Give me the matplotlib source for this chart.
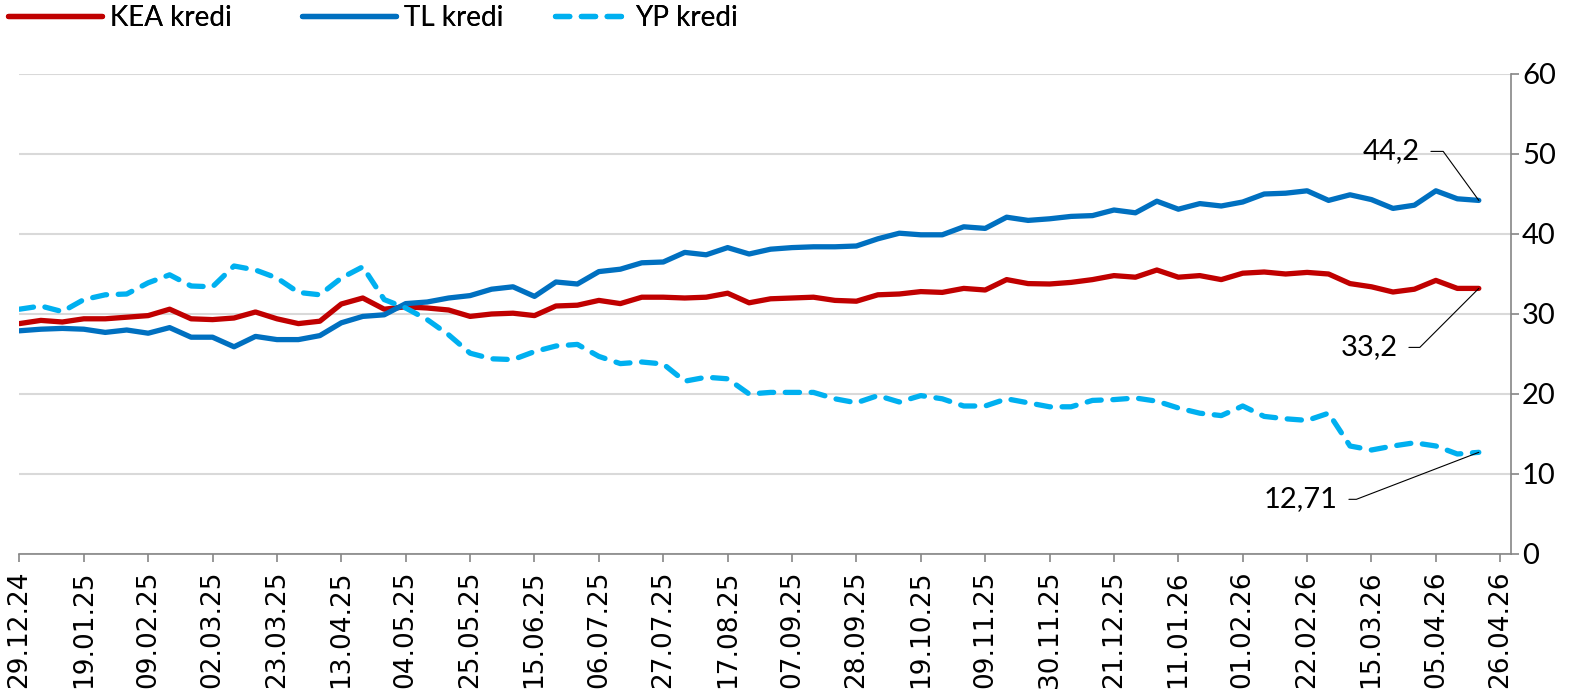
import matplotlib

matplotlib.use("Agg")
import matplotlib.pyplot as plt
import pandas as pd

# weekly data, 29.12.24 .. 19.04.26
start = "2024-12-29"
n_weeks = 69

kea = [28.8, 29.2, 29.0, 29.4, 29.4, 29.6, 29.8, 30.6, 29.4, 29.3, 29.5, 30.25, 29.4,
       28.8, 29.1, 31.25, 32.0, 30.6, 30.9, 30.75, 30.5, 29.7, 30.0, 30.1,
       29.8, 31.0, 31.1, 31.7, 31.3, 32.1, 32.1, 32.0, 32.1, 32.6, 31.4, 31.9, 32.0,
       32.1, 31.7, 31.6, 32.4, 32.5, 32.8, 32.7, 33.2, 33.0, 34.3, 33.8, 33.75,
       33.95, 34.3, 34.8, 34.6, 35.5, 34.6, 34.8, 34.3, 35.1, 35.25,
       35.0, 35.2, 35.0, 33.8, 33.4, 32.75, 33.1, 34.2, 33.2, 33.2]
tl = [27.9, 28.1, 28.2, 28.1, 27.7, 28.0, 27.6, 28.3, 27.1, 27.1, 25.9, 27.2, 26.8,
      26.8, 27.3, 28.9, 29.7, 29.9, 31.3, 31.5, 32.0, 32.3, 33.1, 33.4,
      32.2, 34.0, 33.75, 35.3, 35.6, 36.4, 36.5, 37.7, 37.4, 38.3, 37.5, 38.1, 38.3,
      38.4, 38.4, 38.5, 39.4, 40.1, 39.9, 39.9, 40.9, 40.7, 42.1, 41.7, 41.9,
      42.2, 42.3, 43.0, 42.65, 44.1, 43.1, 43.8, 43.5, 44.0, 45.0,
      45.1, 45.4, 44.2, 44.9, 44.3, 43.2, 43.6, 45.4, 44.4, 44.2]
yp = [30.6, 31.0, 30.3, 31.8, 32.4, 32.5, 33.9, 34.9, 33.5, 33.4, 36.0, 35.5, 34.5,
      32.7, 32.4, 34.5, 35.9, 31.8, 30.75, 29.3, 27.4, 25.1, 24.4, 24.3,
      25.3, 26.0, 26.2, 24.7, 23.8, 24.0, 23.75, 21.6, 22.1, 21.9, 20.0, 20.2, 20.2,
      20.2, 19.4, 18.9, 19.8, 19.0, 19.8, 19.4, 18.5, 18.5, 19.4, 18.9, 18.4,
      18.4, 19.2, 19.3, 19.5, 19.1, 18.25, 17.6, 17.3, 18.5, 17.2,
      16.9, 16.7, 17.6, 13.5, 13.0, 13.5, 13.9, 13.5, 12.5, 12.71]

labels = ["KEA kredi", "TL kredi", "YP kredi"]
colors = ["#C00000", "#0070C0", "#00B0F0"]
end_labels = ["33,2", "44,2", "12,71"]

dates = pd.date_range(start, periods=n_weeks, freq="7D")
ticks = pd.date_range(start, "2026-04-26", freq="21D")

W, H = 1591, 691
fig = plt.figure(figsize=(W / 100, H / 100), dpi=100)
ax = fig.add_axes([19.4 / W, 137 / H, (1511 - 19.4) / W, 480 / H])

lw = 3.8
h1, = ax.plot(dates, kea, color=colors[0], lw=lw, label=labels[0], solid_capstyle="round")
h2, = ax.plot(dates, tl, color=colors[1], lw=lw, label=labels[1], solid_capstyle="round")
h3, = ax.plot(dates, yp, color=colors[2], lw=lw, label=labels[2],
              dashes=(2.7, 2.2), dash_capstyle="round")

ax.set_xlim(dates[0], dates[0] + pd.Timedelta(weeks=69.5))
ax.set_ylim(0, 60)
ax.set_yticks(range(0, 61, 10))
ax.set_xticks(ticks)
ax.set_xticklabels([d.strftime("%d.%m.%y") for d in ticks], rotation=90,
                   fontsize=19, family="DejaVu Sans")

ax.yaxis.tick_right()
for lab in ax.get_yticklabels():
    lab.set_family("Lato")
    lab.set_fontsize(21)
ax.grid(axis="y", color="#d9d9d9", lw=1.5)
ax.set_axisbelow(True)
for s in ["top", "left"]:
    ax.spines[s].set_visible(False)
for s in ["right", "bottom"]:
    ax.spines[s].set_color("#868686")
    ax.spines[s].set_linewidth(1.2)
ax.tick_params(axis="both", direction="out", length=6, color="#868686", width=1.2)
ax.tick_params(axis="x", pad=6)
ax.tick_params(axis="y", pad=2)

# end-point labels with leader lines
ends = [(kea[-1], (-81, -59), 45), (tl[-1], (-59, 49), -54), (yp[-1], (-141, -47), 21)]
for txt, (val, off, ang) in zip(end_labels, ends):
    ax.annotate(txt, xy=(dates[-1], val), xytext=off, textcoords="offset pixels",
                ha="right", va="center", fontsize=21, family="Lato",
                arrowprops=dict(arrowstyle="-", color="black", lw=0.8,
                                shrinkA=6, shrinkB=0, relpos=(1, 0.5),
                                connectionstyle=f"angle,angleA=0,angleB={ang},rad=0"))

# legend entries placed one by one, like the Excel layout
for h, x0, hl in zip([h1, h2, h3], [8, 302, 555], [3.4, 3.4, 2.6]):
    leg = fig.legend(handles=[h], loc="center left", bbox_to_anchor=(x0 / W, 1 - 17.5 / H),
                     frameon=False, prop={"family": "Lato", "size": 20},
                     handlelength=hl, handletextpad=0.28, borderpad=0, borderaxespad=0)
    fig.add_artist(leg)

fig.savefig("out.png", dpi=100)
